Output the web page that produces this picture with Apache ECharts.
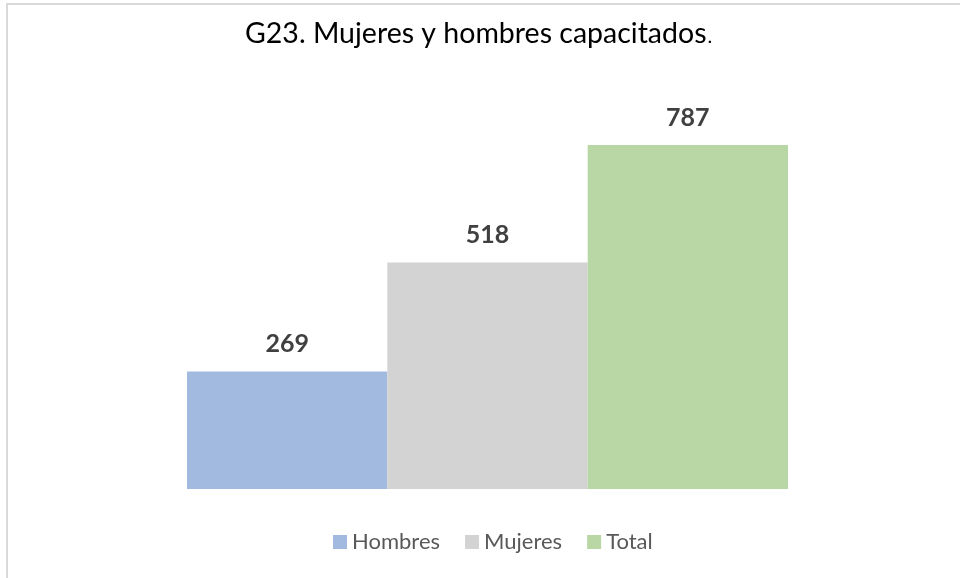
<!DOCTYPE html>
<html>
    <head>
        <meta charset="utf-8">
        <title>G23</title>
        <script src="https://cdn.jsdelivr.net/npm/echarts@6/dist/echarts.min.js"></script>
        <style>
            body { margin: 0; background: #fff; }
            #frame { position: absolute; left: 6px; top: 3px; width: 960px; height: 580px; border-left: 2px solid #d9d9d9; border-top: 2px solid #d9d9d9; }
            #main { position: absolute; left: 0; top: 0; width: 960px; height: 578px; }
        </style>
    </head>
    <body>
        <div id="frame"></div>
        <div id="main"></div>
        <script>
            let categories = [''];
            let seriesNames = ['Hombres', 'Mujeres', 'Total'];
            let hombres = [269];
            let mujeres = [518];
            let total = [787];
            let colors = ['#a2b9e0', '#d3d3d3', '#b9d7a4'];

            let values = [hombres, mujeres, total];
            let series = seriesNames.map(function (name, i) {
                return {
                    name: name,
                    type: 'bar',
                    data: values[i],
                    barGap: '0%',
                    barCategoryGap: '0%',
                    itemStyle: { color: colors[i] },
                    label: {
                        show: true,
                        position: 'top',
                        distance: 15,
                        fontFamily: 'Lato',
                        fontWeight: 'bold',
                        fontSize: 25,
                        color: '#404040'
                    }
                };
            });

            let option = {
                animation: false,
                title: {
                    text: '{a|G23. Mujeres y hombres capacitados}{b|.}',
                    left: 240,
                    top: 14,
                    textStyle: {
                        rich: {
                            a: { fontFamily: 'Lato', fontSize: 28.5, fontWeight: 'normal', color: '#000' },
                            b: { fontFamily: 'Lato', fontSize: 20, fontWeight: 'normal', color: '#000', verticalAlign: 'bottom', padding: [0, 0, 1, 1] }
                        }
                    }
                },
                legend: {
                    data: seriesNames,
                    top: 526,
                    left: 328,
                    itemWidth: 14,
                    itemHeight: 14,
                    itemGap: 25,
                    icon: 'rect',
                    textStyle: { fontFamily: 'Lato', fontSize: 22, color: '#595959' }
                },
                grid: { left: 187, right: 172, top: 145, bottom: 89 },
                xAxis: {
                    type: 'category',
                    data: categories,
                    axisLine: { show: false },
                    axisTick: { show: false },
                    axisLabel: { show: false }
                },
                yAxis: {
                    type: 'value',
                    min: 0,
                    max: 787,
                    show: false,
                    splitLine: { show: false }
                },
                series: series
            };

            let chart = echarts.init(document.getElementById('main'));
            chart.setOption(option);
        </script>
    </body>
</html>
